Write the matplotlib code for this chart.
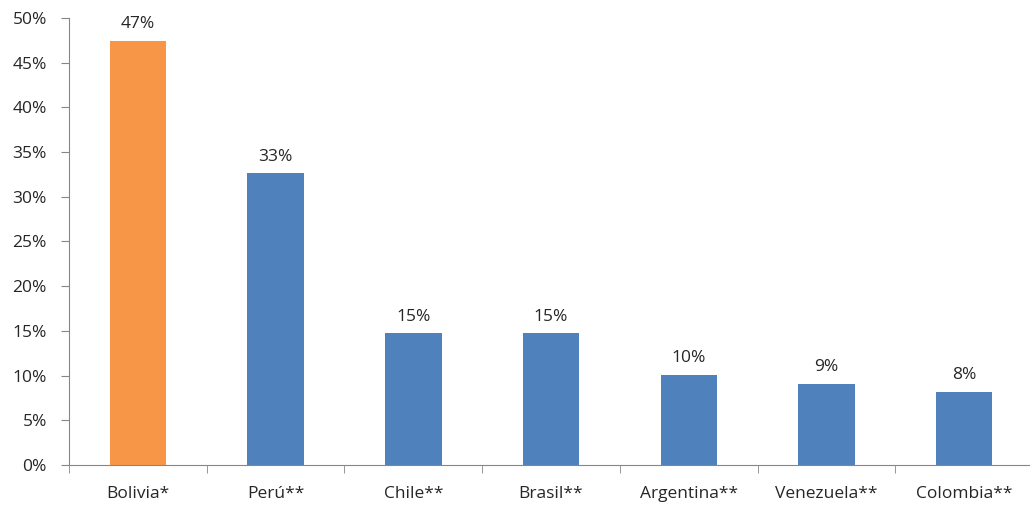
import matplotlib.pyplot as plt
import numpy as np

countries = ["Bolivia*", "Perú**", "Chile**", "Brasil**", "Argentina**", "Venezuela**", "Colombia**"]
shares = [47.4, 32.6, 14.7, 14.7, 10.1, 9.1, 8.2]
colors = ["#F79646", "#4F81BD", "#4F81BD", "#4F81BD", "#4F81BD", "#4F81BD", "#4F81BD"]

plt.rcParams["font.family"] = ["Open Sans", "DejaVu Sans"]
plt.rcParams["font.size"] = 12.5

fig = plt.figure(figsize=(10.3, 5.12), dpi=100)
ax = fig.add_axes([0.067, 0.092, 0.936, 0.873])

x = np.arange(len(countries))
bars = ax.bar(x, shares, width=0.41, color=colors)

for xi, v in zip(x, shares):
    ax.text(xi, v + 1.0, f"{v:.0f}%", ha="center", va="bottom", color="#262626")

ax.set_ylim(0, 50)
ax.set_xlim(-0.5, len(countries) - 0.5)
ax.set_yticks(np.arange(0, 51, 5))
ax.set_yticklabels([f"{t}%" for t in range(0, 51, 5)])

# category labels centred, tick marks on the boundaries
ax.set_xticks(x)
ax.set_xticklabels(countries)
ax.set_xticks(np.arange(-0.5, len(countries) - 0.5, 1), minor=True)
ax.tick_params(axis="x", which="major", length=0, pad=15)
ax.tick_params(axis="x", which="minor", length=6, direction="out")
ax.tick_params(axis="y", length=6, direction="out", pad=10)
ax.tick_params(axis="both", which="both", color="#868686", labelcolor="#262626")

for s in ["top", "right"]:
    ax.spines[s].set_visible(False)
for s in ["left", "bottom"]:
    ax.spines[s].set_color("#868686")

fig.savefig("out.png", dpi=100)
